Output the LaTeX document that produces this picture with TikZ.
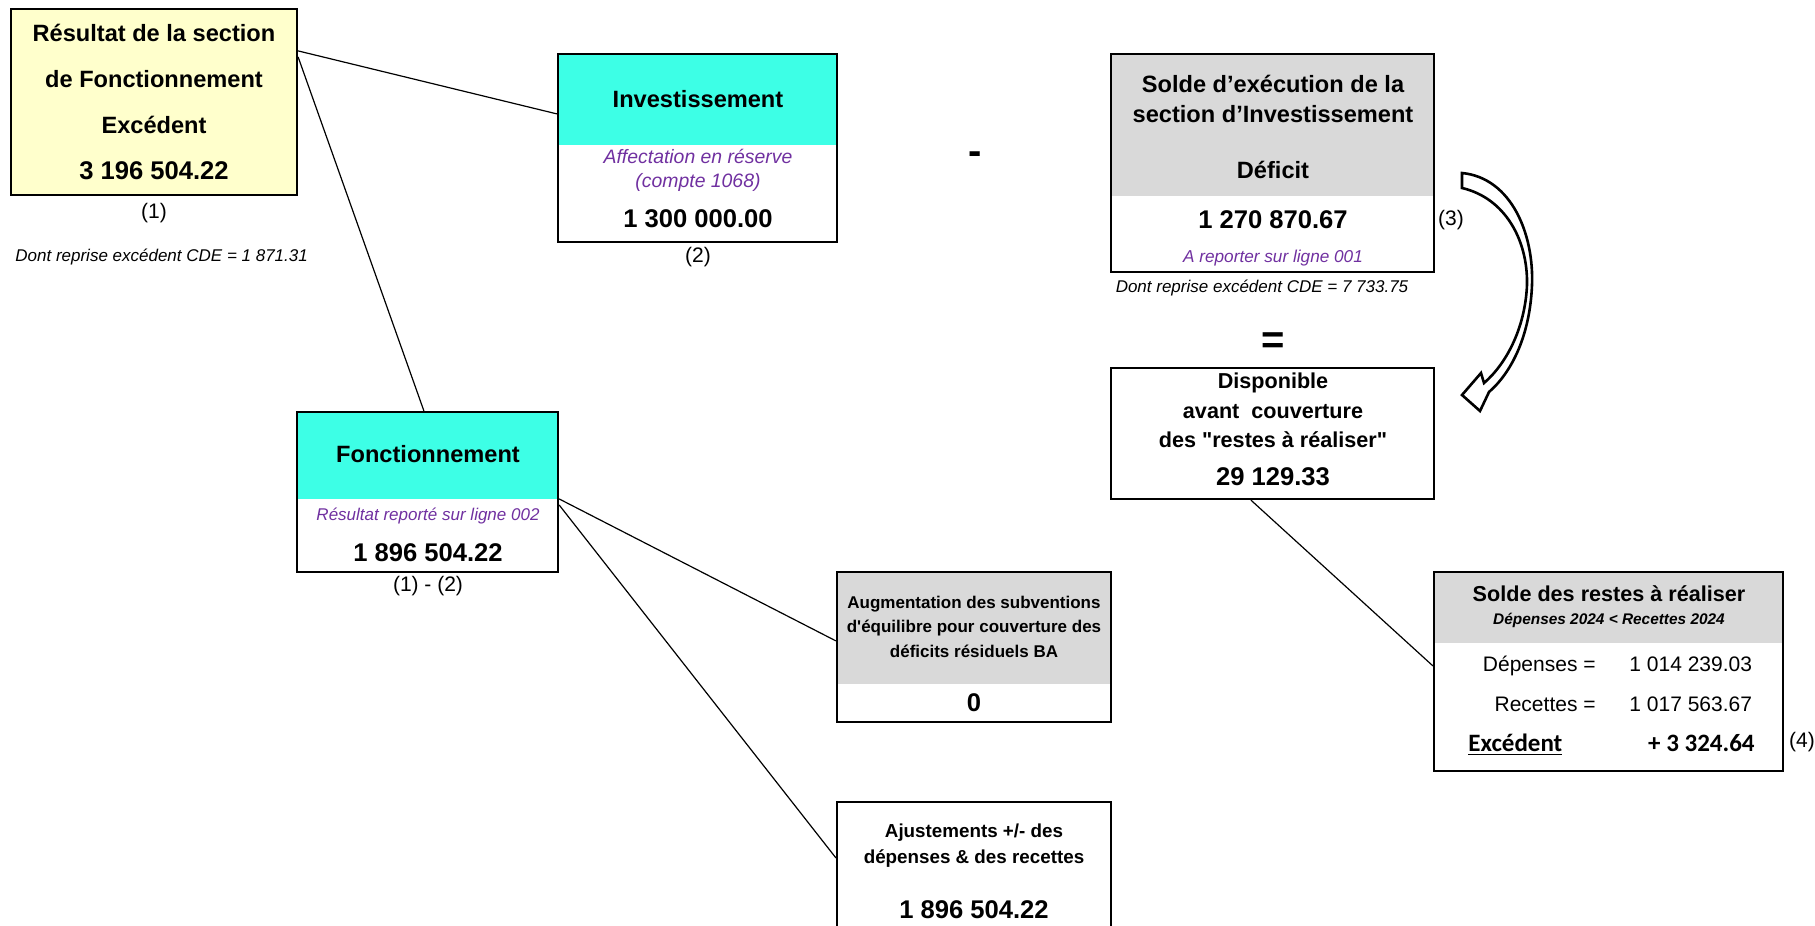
\documentclass[tikz,border=0pt]{standalone}
\usepackage{fontspec}
\setmainfont{Liberation Sans}
\newfontfamily\calibfont{Carlito}
\usetikzlibrary{fit, calc}
\definecolor{cyanhd}{HTML}{3DFFE6}
\definecolor{yellowbx}{HTML}{FFFFCC}
\definecolor{greyhd}{HTML}{D9D9D9}
\definecolor{purp}{HTML}{7030A0}
\tikzset{
  every picture/.style={x=0.5pt, y=-0.5pt},
  panel/.style={draw, line width=1.1pt, inner sep=0pt, fill=#1},
  panel/.default=none,
  head/.style={fill=#1, inner sep=0pt},
  link/.style={line width=0.6pt},
  hollow/.style={draw, fill=white, line width=1.3pt, line join=miter},
  ttl/.style={inner sep=0pt, font=\bfseries\fontsize{11.8}{14}\selectfont},
  mid/.style={inner sep=0pt, font=\bfseries\fontsize{10.8}{13}\selectfont},
  small/.style={inner sep=0pt, font=\bfseries\fontsize{8.5}{10}\selectfont},
  num/.style={inner sep=0pt, font=\bfseries\fontsize{12.8}{15}\selectfont},
  hint/.style={inner sep=0pt, text=purp, font=\itshape\fontsize{#1}{12}\selectfont},
  hint/.default=9.7,
  ref/.style={inner sep=0pt, font=\fontsize{10.5}{12}\selectfont},
  note/.style={inner sep=0pt, font=\itshape\fontsize{8.5}{10}\selectfont},
  rowtxt/.style={inner sep=0pt, font=\fontsize{10.5}{12}\selectfont},
  sign/.style={inner sep=0pt, font=\bfseries\fontsize{20}{24}\selectfont},
}
\begin{document}
\begin{tikzpicture}
  \useasboundingbox (0,0) rectangle (1815,926);
  % colored headers
  \node[head=yellowbx, fit={(11,9) (297,195)}] (resH) {};
  \node[head=cyanhd, fit={(558,54) (837,145)}] (invH) {};
  \node[head=greyhd, fit={(1111,54) (1434,196)}] (soldeH) {};
  \node[head=cyanhd, fit={(297,412) (558,499)}] (foncH) {};
  \node[head=greyhd, fit={(837,572) (1111,684)}] (augH) {};
  \node[head=greyhd, fit={(1434,572) (1783,643)}] (srrH) {};
  % frames
  \node[panel, fit={(11,9) (297,195)}] (res) {};
  \node[panel, fit={(558,54) (837,242)}] (inv) {};
  \node[panel, fit={(1111,54) (1434,272)}] (solde) {};
  \node[panel, fit={(1111,368) (1434,499)}] (dispo) {};
  \node[panel, fit={(297,412) (558,572)}] (fonc) {};
  \node[panel, fit={(837,572) (1111,722)}] (aug) {};
  \node[panel, fit={(1434,572) (1783,771)}] (srr) {};
  \node[panel, fit={(837,802) (1111,960)}] (adj) {};

  % result of the operating section
  \node[ttl] (resT1) at (154,33) {Résultat de la section};
  \node[ttl] (resT2) at (154,79) {de Fonctionnement};
  \node[ttl] (resT3) at (154,125) {Excédent};
  \node[num] (resV) at (154,171) {3 196 504.22};
  \node[ref] (ref1) at (154,213) {(1)};
  \node[note, anchor=west] (cde1) at (15,257) {Dont reprise excédent CDE = 1 871.31};

  % investment
  \node[ttl] (invT) at (698,99) {Investissement};
  \node[hint] (invN1) at (698,156) {Affectation en réserve};
  \node[hint] (invN2) at (698,182) {(compte 1068)};
  \node[num] (invV) at (698,219) {1 300 000.00};
  \node[ref] (ref2) at (698,257) {(2)};
  \node[sign] (minus) at (975,158) {-};

  % balance of the investment section
  \node[ttl] (soldeT1) at (1273,84) {Solde d’exécution de la};
  \node[ttl] (soldeT2) at (1273,114) {section d’Investissement};
  \node[ttl] (soldeT3) at (1273,170) {Déficit};
  \node[num] (soldeV) at (1273,220) {1 270 870.67};
  \node[hint=8.6] (soldeN) at (1273,258) {A reporter sur ligne 001};
  \node[ref] (ref3) at (1451,220) {(3)};
  \node[note] (cde2) at (1262,288) {Dont reprise excédent CDE = 7 733.75};
  \node[sign] (equal) at (1273,343) {=};

  % available amount
  \node[mid] (dispoT1) at (1273,383) {Disponible};
  \node[mid] (dispoT2) at (1273,412) {avant\ \ couverture};
  \node[mid] (dispoT3) at (1273,440) {des \textquotedbl restes à réaliser\textquotedbl};
  \node[num] (dispoV) at (1273,477) {29 129.33};

  % operating
  \node[ttl] (foncT) at (428,454) {Fonctionnement};
  \node[hint=8.5] (foncN) at (428,516) {Résultat reporté sur ligne 002};
  \node[num] (foncV) at (428,553) {1 896 504.22};
  \node[ref] (ref12) at (428,586) {(1) - (2)};

  % subsidies
  \node[small] (augT1) at (974,604) {Augmentation des subventions};
  \node[small] (augT2) at (974,628) {d\textquotesingle équilibre pour couverture des};
  \node[small] (augT3) at (974,651) {déficits résiduels BA};
  \node[num] (augV) at (974,703) {0};

  % adjustments
  \node[inner sep=0pt, font=\bfseries\fontsize{9.4}{11}\selectfont] (adjT1) at (974,833) {Ajustements +/- des};
  \node[inner sep=0pt, font=\bfseries\fontsize{9.4}{11}\selectfont] (adjT2) at (974,859) {dépenses \& des recettes};
  \node[num] (adjV) at (974,910) {1 896 504.22};

  % remainders to be realised
  \node[mid] (srrT) at (1609,594) {Solde des restes à réaliser};
  \node[inner sep=0pt, font=\bfseries\itshape\fontsize{7.7}{9}\selectfont] (srrN) at (1609,620) {Dépenses 2024 < Recettes 2024};
  \node[rowtxt, anchor=base east] (depL) at (1596,671) {Dépenses =};
  \node[rowtxt, anchor=base west] (depV) at (1629,671) {1 014 239.03};
  \node[rowtxt, anchor=base east] (recL) at (1596,711) {Recettes =};
  \node[rowtxt, anchor=base west] (recV) at (1629,711) {1 017 563.67};
  \node[inner sep=0pt, anchor=base west, font=\calibfont\bfseries\fontsize{12.5}{15}\selectfont] (excL) at (1468,751) {\underline{Excédent}};
  \node[inner sep=0pt, anchor=base east, font=\calibfont\bfseries\fontsize{12.5}{15}\selectfont] (excV) at (1755,751) {+ 3 324.64};
  \node[ref] (ref4) at (1802,742) {(4)};

  % connectors
  \draw[link] ($(res.north east)+(0,43)$) -- ($(inv.north west)+(0,61)$);
  \draw[link] ($(res.north east)+(0,49)$) -- ($(fonc.north west)+(128,0)$);
  \draw[link] ($(fonc.north east)+(0,88)$) -- ($(aug.north west)+(0,70)$);
  \draw[link] ($(fonc.north east)+(0,94)$) -- ($(adj.north west)+(0,57)$);
  \draw[link] ($(dispo.south west)+(141,0)$) -- ($(srr.north west)+(0,95)$);

  % curved hollow arrow
  \coordinate (arrTop) at (1462,173);
  \coordinate (arrTip) at (1462,395);
  \draw[hollow] (arrTop) .. controls (1512,178) and (1534,235) .. (1532,285)
    .. controls (1530,335) and (1512,372) .. (1489,392) -- (1480,411) -- (arrTip)
    -- (1481,373) -- (1484,383) .. controls (1505,365) and (1525,330) .. (1527,285)
    .. controls (1528,240) and (1505,198) .. (1462,188) -- cycle;
\end{tikzpicture}
\end{document}
